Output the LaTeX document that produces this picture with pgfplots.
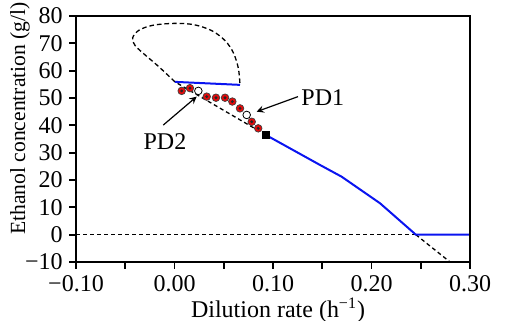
\documentclass[border=0pt]{standalone}
\usepackage{fontspec}
\setmainfont{Liberation Serif}
\usepackage{pgfplots}
\pgfplotsset{compat=1.18}
\usetikzlibrary{calc}
\definecolor{lblue}{RGB}{10,20,240}
\definecolor{dred}{RGB}{230,10,10}
\begin{document}
\fontsize{12}{14}\selectfont
\begin{tikzpicture}
\begin{axis}[
  name=ax,
  scale only axis, width=197pt, height=123pt,
  xmin=-0.1, xmax=0.3, ymin=-10, ymax=80,
  axis line style={line width=1pt},
  xtick={-0.1,-0.05,0,0.05,0.1,0.15,0.2,0.25,0.3},
  xticklabels={−0.10,,0.00,,0.10,,0.20,,0.30},
  ytick={-10,0,10,20,30,40,50,60,70,80},
  yticklabels={−10,0,10,20,30,40,50,60,70,80},
  tick align=outside, xtick pos=bottom, ytick pos=left,
  major tick length=3.5pt, tick style={line width=0.9pt, black},
  xticklabel style={font=\fontsize{12}{14}\selectfont, yshift=1pt},
  yticklabel style={font=\fontsize{12}{14}\selectfont, xshift=1pt},
  xlabel={Dilution rate (h\textsuperscript{−1})},
  ylabel={Ethanol concentration (g/l)},
  xlabel style={font=\fontsize{12}{14}\selectfont, yshift=5pt, xshift=2.5pt},
  ylabel style={font=\fontsize{10.8}{13}\selectfont, at={(axis description cs:-0.142,0.583)}, anchor=center},
]
% dashed zero line
\addplot[black, line width=0.65pt, dash pattern=on 2pt off 1.5pt] coordinates {(-0.1,0) (0.245,0)};
\addplot[black, line width=0.65pt, dash pattern=on 2pt off 1.5pt] coordinates {(0.245,0) (0.2797,-10)};
% unstable branch (straight part)
\addplot[black, line width=0.65pt, dash pattern=on 2pt off 1.5pt] coordinates {(0.0926,36.5) (0.0005,55.9)};
% loop
\addplot[black, line width=0.65pt, dash pattern=on 2.3pt off 1.5pt, smooth, tension=0.55] coordinates {
 (0.0005,55.9) (-0.0164,61.6) (-0.030,65.8) (-0.040,69.2) (-0.0425,72.0)
 (-0.036,74.8) (-0.022,76.6) (0.000,77.3) (0.020,76.8) (0.038,74.6)
 (0.0513,71.0) (0.0597,66.6) (0.0648,60.9) (0.0665,54.8)};
% blue stable branches
\addplot[lblue, line width=1pt] coordinates {(0.0005,55.9) (0.0665,54.8)};
\addplot[lblue, line width=1pt] coordinates {
 (0.0926,36.5) (0.1477,25.5) (0.1697,21.2) (0.2086,11.5) (0.245,0) (0.30,0)};
% experimental points (red)
\addplot[only marks, mark=*, mark size=1.9pt, mark options={fill=dred, draw=black!75, line width=0.35pt}] coordinates {
 (0.0073,52.6) (0.0157,53.6) (0.0327,50.5) (0.0421,50.1) (0.0513,50.1)
 (0.0587,48.7) (0.0665,46.2) (0.0784,41.3) (0.085,38.9)};
\addplot[only marks, mark=*, mark size=0.5pt, mark options={fill=black!85, draw=black!85}] coordinates {
 (0.0073,52.6) (0.0157,53.6) (0.0327,50.5) (0.0421,50.1) (0.0513,50.1)
 (0.0587,48.7) (0.0665,46.2) (0.0784,41.3) (0.085,38.9)};
% open points
\addplot[only marks, mark=*, mark size=1.9pt, mark options={fill=white, draw=black, line width=0.4pt}] coordinates {
 (0.0242,52.6) (0.0733,43.8)};
% black square
\addplot[only marks, mark=square*, mark size=1.7pt, mark options={fill=black, draw=black}] coordinates {(0.0926,36.5)};
% annotations
\draw[-stealth, line width=0.6pt] (axis cs:0.1254,50.5) -- (axis cs:0.0834,45.0);
\node[anchor=west, inner sep=0pt, font=\fontsize{12}{14}\selectfont] at (axis cs:0.1285,50.0) {PD1};
\draw[-stealth, line width=0.6pt] (axis cs:-0.0114,40.1) -- (axis cs:0.0225,50.5);
\node[inner sep=0pt, font=\fontsize{12}{14}\selectfont] at (axis cs:-0.0097,34.0) {PD2};
\end{axis}
\pgfresetboundingbox
\path[use as bounding box] ($(ax.south west)+(-38pt,-29.5pt)$) rectangle ($(ax.north east)+(17.5pt,8pt)$);
\draw[black, line width=1.4pt] (ax.south west) rectangle (ax.north east);
\end{tikzpicture}
\end{document}
